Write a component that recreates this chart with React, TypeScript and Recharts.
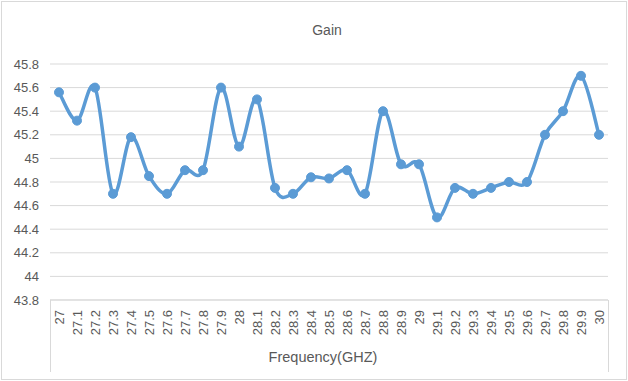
import { CartesianGrid, Line, LineChart, XAxis, YAxis } from "recharts";

const frequencies = [
  "27", "27.1", "27.2", "27.3", "27.4", "27.5", "27.6", "27.7", "27.8", "27.9",
  "28", "28.1", "28.2", "28.3", "28.4", "28.5", "28.6", "28.7", "28.8", "28.9",
  "29", "29.1", "29.2", "29.3", "29.4", "29.5", "29.6", "29.7", "29.8", "29.9", "30"
];

const gain = [
  45.56, 45.32, 45.6, 44.7, 45.18, 44.85, 44.7, 44.9, 44.9, 45.6,
  45.1, 45.5, 44.75, 44.7, 44.84, 44.83, 44.9, 44.7, 45.4, 44.95,
  44.95, 44.5, 44.75, 44.7, 44.75, 44.8, 44.8, 45.2, 45.4, 45.7, 45.2
];

const yTicks = [43.8, 44, 44.2, 44.4, 44.6, 44.8, 45, 45.2, 45.4, 45.6, 45.8];

const data = frequencies.map((f, i) => ({ freq: f, gain: gain[i] }));

const textColor = "#595959";
const gridColor = "#d9d9d9";
const font = "'Liberation Sans', Arial, sans-serif";

// excel-ish smoothing (catmull-rom through every point)
function smoothCurve(context: any) {
  let pts: number[][] = [];
  return {
    areaStart() {},
    areaEnd() {},
    lineStart() {
      pts = [];
    },
    point(x: number, y: number) {
      pts.push([+x, +y]);
    },
    lineEnd() {
      if (!pts.length) return;
      context.moveTo(pts[0][0], pts[0][1]);
      for (let i = 0; i < pts.length - 1; i++) {
        const p0 = pts[i - 1] ?? pts[i];
        const p1 = pts[i];
        const p2 = pts[i + 1];
        const p3 = pts[i + 2] ?? p2;
        context.bezierCurveTo(
          p1[0] + (p2[0] - p0[0]) / 6,
          p1[1] + (p2[1] - p0[1]) / 6,
          p2[0] - (p3[0] - p1[0]) / 6,
          p2[1] - (p3[1] - p1[1]) / 6,
          p2[0],
          p2[1]
        );
      }
    }
  };
}

function FreqTick({ x, y, payload }: any) {
  const ty = y + 2;
  return (
    <text
      x={x}
      y={ty}
      dy="0.35em"
      transform={`rotate(-90, ${x}, ${ty})`}
      textAnchor="end"
      fill={textColor}
      fontSize={13}
      fontFamily={font}
    >
      {payload.value}
    </text>
  );
}

export default function App() {
  return (
    <div style={{ position: "relative", width: 628, height: 381, background: "#fff", fontFamily: font }}>
      <style>{"body{margin:0}"}</style>
      <div
        style={{
          position: "absolute",
          left: 1,
          top: 1,
          width: 626,
          height: 379,
          border: `1px solid ${gridColor}`,
          boxSizing: "border-box"
        }}
      />
      <div
        style={{
          position: "absolute",
          left: 50,
          top: 300,
          width: 559,
          height: 72,
          borderLeft: `1px solid ${gridColor}`,
          borderRight: `1px solid ${gridColor}`,
          boxSizing: "border-box"
        }}
      />
      <div
        style={{
          position: "absolute",
          left: 327,
          top: 22,
          transform: "translateX(-50%)",
          fontSize: 14,
          lineHeight: "16px",
          color: textColor
        }}
      >
        Gain
      </div>
      <div
        style={{
          position: "absolute",
          left: 323,
          top: 349,
          transform: "translateX(-50%)",
          fontSize: 14.5,
          lineHeight: "16px",
          color: textColor,
          whiteSpace: "nowrap"
        }}
      >
        Frequency(GHZ)
      </div>
      <LineChart
        width={628}
        height={381}
        data={data}
        margin={{ top: 64, right: 20, left: 0, bottom: 15 }}
        style={{ position: "absolute", left: 0, top: 0 }}
      >
        <CartesianGrid vertical={false} stroke={gridColor} strokeWidth={1} />
        <XAxis
          dataKey="freq"
          height={66}
          interval={0}
          padding={{ left: 9, right: 9 }}
          tickLine={false}
          axisLine={{ stroke: gridColor }}
          tick={<FreqTick />}
        />
        <YAxis
          width={50}
          domain={[43.8, 45.8]}
          ticks={yTicks}
          allowDataOverflow
          axisLine={false}
          tickLine={false}
          tickMargin={5}
          tickFormatter={(v: number) => String(Number(v.toFixed(1)))}
          tick={{ fill: textColor, fontSize: 13, fontFamily: font }}
        />
        <Line
          dataKey="gain"
          type={smoothCurve as any}
          stroke="#5b9bd5"
          strokeWidth={3.5}
          dot={{ r: 4.5, fill: "#5b9bd5", stroke: "#5b9bd5", strokeWidth: 1 }}
          activeDot={false}
          isAnimationActive={false}
        />
      </LineChart>
    </div>
  );
}
